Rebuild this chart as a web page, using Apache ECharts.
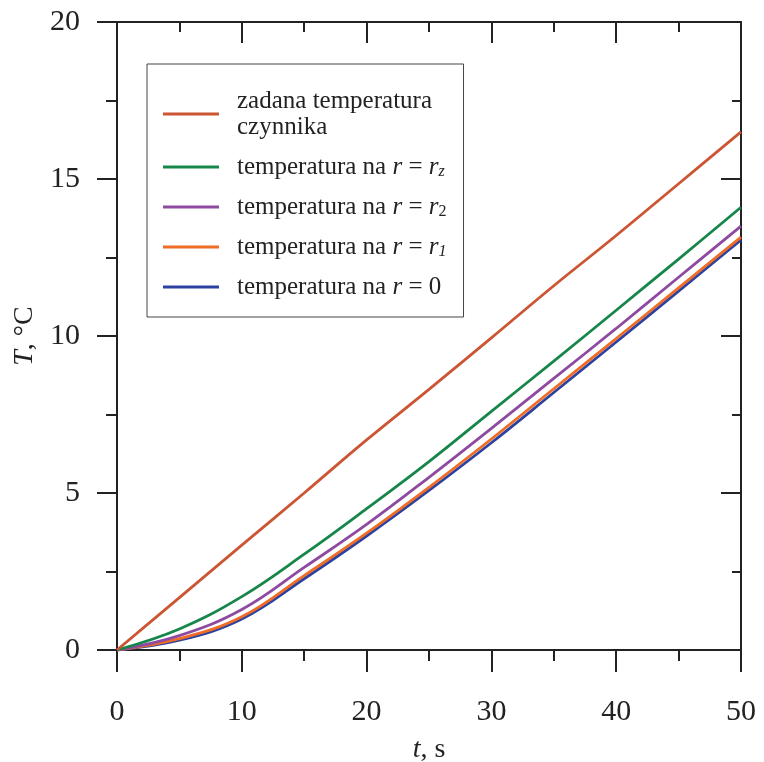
<!DOCTYPE html>
<html>
<head>
<meta charset="utf-8">
<script src="https://cdn.jsdelivr.net/npm/echarts@6/dist/echarts.min.js"></script>
<style>
  html, body { margin: 0; padding: 0; background: #fff; }
  #chart { width: 764px; height: 762px; }
</style>
</head>
<body>
<div id="chart"></div>
<script>
// Time axis, s
var timeS = [0, 5, 10, 15, 20, 25, 30, 35, 40, 45, 50];

// Temperatures, °C
var setpointT = [0, 1.67, 3.34, 5.00, 6.69, 8.30, 9.94, 11.60, 13.20, 14.85, 16.50];
var tempRz    = [0, 0.67, 1.70, 3.05, 4.50, 6.00, 7.60, 9.20, 10.82, 12.45, 14.10];
var tempR2    = [0, 0.46, 1.29, 2.63, 4.00, 5.50, 7.06, 8.65, 10.24, 11.87, 13.50];
var tempR1    = [0, 0.36, 1.06, 2.37, 3.72, 5.18, 6.72, 8.32, 9.92, 11.53, 13.15];
var tempR0    = [0, 0.31, 0.99, 2.27, 3.63, 5.08, 6.60, 8.20, 9.81, 11.43, 13.06];

var seriesNames = [
  'zadana temperatura czynnika',
  'temperatura na r = rz',
  'temperatura na r = r2',
  'temperatura na r = r1',
  'temperatura na r = 0'
];
var legendLabels = {
  'zadana temperatura czynnika': 'zadana temperatura\nczynnika',
  'temperatura na r = rz': 'temperatura na {i|r} = {i|r}{subi|z}',
  'temperatura na r = r2': 'temperatura na {i|r} = {i|r}{sub|2}',
  'temperatura na r = r1': 'temperatura na {i|r} = {i|r}{subi|1}',
  'temperatura na r = 0': 'temperatura na {i|r} = 0'
};
var colors = ['#cc5533', '#17864a', '#8e4aa0', '#ee6c26', '#2b42a0'];
var valueSets = [setpointT, tempRz, tempR2, tempR1, tempR0];

var FONT = '"Liberation Serif", "Times New Roman", serif';
var INK = '#222';

function pairs(xs, ys) {
  return xs.map(function (x, i) { return [x, ys[i]]; });
}

var chart = echarts.init(document.getElementById('chart'));

var axisLineStyle = { color: INK, width: 2 };

chart.setOption({
  animation: false,
  backgroundColor: '#fff',
  grid: { left: 117, right: 23, top: 22, bottom: 112, outerBoundsMode: 'none', containLabel: false },
  legend: {
    orient: 'vertical',
    left: 147,
    top: 64,
    padding: [24, 17, 17, 16],
    itemGap: 14,
    itemWidth: 56,
    itemHeight: 3,
    icon: 'rect',
    borderColor: '#444',
    borderWidth: 1,
    backgroundColor: '#fff',
    data: seriesNames,
    formatter: function (name) { return legendLabels[name]; },
    textStyle: {
      fontFamily: FONT,
      fontSize: 25,
      lineHeight: 26,
      color: INK,
      padding: [0, 0, 0, 13],
      rich: {
        i: { fontFamily: FONT, fontSize: 25, fontStyle: 'italic', color: INK, lineHeight: 26 },
        sub: { fontFamily: FONT, fontSize: 16, color: INK, lineHeight: 8, verticalAlign: 'bottom' },
        subi: { fontFamily: FONT, fontSize: 16, fontStyle: 'italic', color: INK, lineHeight: 8, verticalAlign: 'bottom' }
      }
    }
  },
  xAxis: [
    {
      type: 'value',
      position: 'bottom',
      min: 0, max: 50, interval: 10,
      name: '{i|t}, s',
      nameLocation: 'middle',
      nameGap: 86,
      nameTextStyle: {
        fontFamily: FONT, fontSize: 28, color: INK,
        rich: { i: { fontFamily: FONT, fontSize: 28, fontStyle: 'italic', color: INK } }
      },
      axisLine: { show: true, onZero: false, lineStyle: axisLineStyle },
      axisTick: { show: true, inside: false, length: 22, lineStyle: axisLineStyle },
      minorTick: { show: true, splitNumber: 2, length: 11, lineStyle: axisLineStyle },
      axisLabel: { margin: 47, fontFamily: FONT, fontSize: 30, color: INK },
      splitLine: { show: false }
    },
    {
      type: 'value',
      position: 'top',
      min: 0, max: 50, interval: 10,
      axisLine: { show: true, onZero: false, lineStyle: axisLineStyle },
      axisTick: { show: true, inside: true, length: 21, lineStyle: axisLineStyle },
      minorTick: { show: true, splitNumber: 2, length: 10, lineStyle: axisLineStyle },
      axisLabel: { show: false },
      splitLine: { show: false }
    }
  ],
  yAxis: [
    {
      type: 'value',
      position: 'left',
      min: 0, max: 20, interval: 5,
      name: '{i|T}, °C',
      nameLocation: 'middle',
      nameGap: 77,
      nameTextStyle: {
        fontFamily: FONT, fontSize: 28, color: INK,
        rich: { i: { fontFamily: FONT, fontSize: 28, fontStyle: 'italic', color: INK } }
      },
      axisLine: { show: true, onZero: false, lineStyle: axisLineStyle },
      axisTick: { show: true, inside: false, length: 20, lineStyle: axisLineStyle },
      minorTick: { show: true, splitNumber: 2, length: 11, lineStyle: axisLineStyle },
      axisLabel: { margin: 37, fontFamily: FONT, fontSize: 30, color: INK },
      splitLine: { show: false }
    },
    {
      type: 'value',
      position: 'right',
      min: 0, max: 20, interval: 5,
      axisLine: { show: true, onZero: false, lineStyle: axisLineStyle },
      axisTick: { show: true, inside: true, length: 20, lineStyle: axisLineStyle },
      minorTick: { show: true, splitNumber: 2, length: 9, lineStyle: axisLineStyle },
      axisLabel: { show: false },
      splitLine: { show: false }
    }
  ],
  series: seriesNames.map(function (name, k) {
    return {
      name: name,
      type: 'line',
      xAxisIndex: 0,
      yAxisIndex: 0,
      symbol: 'none',
      smooth: 0.4,
      color: colors[k],
      lineStyle: { color: colors[k], width: 2.8 },
      data: pairs(timeS, valueSets[k]),
      z: 10 - k
    };
  })
});
</script>
</body>
</html>
